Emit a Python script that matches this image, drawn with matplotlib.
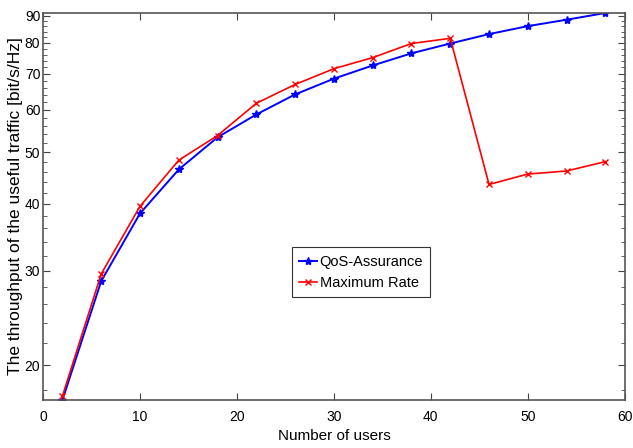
import matplotlib
matplotlib.use("Agg")
import matplotlib.pyplot as plt
from matplotlib.ticker import FixedLocator, NullFormatter

# number of users and throughput values
users = [2, 6, 10, 14, 18, 22, 26, 30, 34, 38, 42, 46, 50, 54, 58]
qos = [17.2, 28.7, 38.4, 46.4, 53.3, 58.8, 64.1, 68.6, 72.6, 76.5, 79.8, 83.1, 86.0, 88.4, 91.0]
maxrate = [17.5, 29.6, 39.6, 48.3, 53.7, 61.7, 66.9, 71.6, 75.1, 79.8, 81.6, 43.5, 45.5, 46.1, 48.0]
yticks = [20, 30, 40, 50, 60, 70, 80, 90]
yminor = list(range(18, 92, 2))
xticks = [0, 10, 20, 30, 40, 50, 60]

narrow = ['Liberation Sans Narrow', 'Liberation Sans', 'DejaVu Sans']

fig = plt.figure(figsize=(6.33, 4.48), dpi=100)
ax = fig.add_axes([0.068, 0.107, 0.919, 0.864])

ax.plot(users, qos, color='blue', marker='*', markersize=6, lw=1.4, label='QoS-Assurance')
ax.plot(users, maxrate, color='red', marker='x', markersize=4, lw=1.2, label='Maximum Rate')

ax.set_yscale('log')
ax.set_xlim(0, 60)
ax.set_ylim(17.2, 91)
ax.yaxis.set_major_locator(FixedLocator(yticks))
ax.yaxis.set_minor_locator(FixedLocator(yminor))
ax.yaxis.set_minor_formatter(NullFormatter())
ax.set_yticklabels([str(v) for v in yticks], family=narrow, fontsize=10)
ax.set_xticks(xticks)
ax.set_xticklabels([str(v) for v in xticks], family=narrow, fontsize=10)

ax.tick_params(which='both', direction='in', top=True, right=True, color='#444444')
ax.tick_params(which='major', length=5)
ax.tick_params(which='minor', length=3)
ax.tick_params(axis='x', pad=7)
ax.tick_params(axis='y', pad=2)
for s in ax.spines.values():
    s.set_color('#555555')
    s.set_linewidth(1.2)

ax.set_xlabel('Number of users', family=narrow, fontsize=11, labelpad=4)
ax.set_ylabel('The throughput of the useful traffic [bit/s/Hz]', family=['Liberation Sans', 'DejaVu Sans'],
              fontsize=12.5, labelpad=1)

leg = ax.legend(loc='center', bbox_to_anchor=(0.547, 0.33), fancybox=False, framealpha=1,
                edgecolor='#333333', prop={'family': narrow, 'size': 10.5},
                handlelength=1.2, handletextpad=0.2, borderpad=0.5, borderaxespad=0)
leg.get_frame().set_linewidth(0.8)

fig.savefig('out.png', dpi=100)
